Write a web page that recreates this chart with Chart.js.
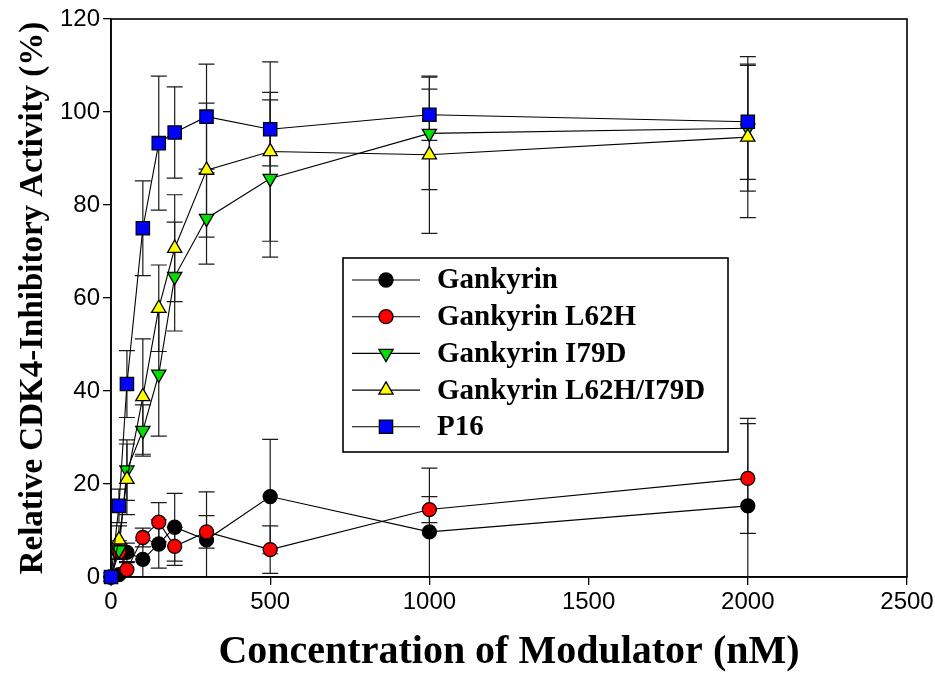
<!DOCTYPE html>
<html>
<head>
<meta charset="utf-8">
<script src="https://cdn.jsdelivr.net/npm/chart.js@4.4.0/dist/chart.umd.min.js"></script>
<style>
html,body{margin:0;padding:0;background:#fff;}
#wrap{width:935px;height:675px;position:relative;}
</style>
</head>
<body>
<div id="wrap"><canvas id="c" width="935" height="675"></canvas></div>
<script>
// ---- data ----
const concentrations = [0, 25, 50, 100, 150, 200, 300, 500, 1000, 2000];

const gankyrin      = [0, 0.5, 5.3, 3.8, 7.1, 10.7, 8.0, 17.3, 9.7, 15.3];
const gankyrinErr   = [0, 1.0, 2.0, 4.0, 5.2, 7.3, 10.3, 12.3, 13.7, 18.8];

const l62h          = [0, 5.4, 1.6, 8.5, 11.8, 6.6, 9.7, 5.9, 14.5, 21.2];
const l62hErr       = [0, 1.5, 1.5, 2.0, 4.2, 4.1, 3.5, 5.1, 2.8, 11.8];

const i79d          = [0, 5.8, 23.0, 31.5, 43.6, 64.6, 77.1, 85.7, 95.4, 96.5];
const i79dErr       = [0, 2.0, 6.5, 5.5, 13.3, 11.7, 9.8, 16.9, 12.1, 13.5];

const l62hI79d      = [0, 8.0, 21.0, 38.8, 57.8, 70.7, 87.5, 91.5, 90.8, 94.6];
const l62hI79dErr   = [0, 3.0, 7.6, 12.4, 9.3, 11.5, 14.4, 19.3, 16.9, 17.3];

const p16           = [0, 15.3, 41.5, 75.0, 93.3, 95.6, 99.0, 96.3, 99.4, 97.9];
const p16Err        = [0, 3.6, 7.2, 10.2, 14.4, 9.8, 11.3, 7.9, 5.5, 12.4];

const seriesNames = ['Gankyrin', 'Gankyrin L62H', 'Gankyrin I79D', 'Gankyrin L62H/I79D', 'P16'];
const xTickValues = [0, 500, 1000, 1500, 2000, 2500];
const yTickValues = [0, 20, 40, 60, 80, 100, 120];
const xTitle = 'Concentration of Modulator (nM)';
const yTitle = 'Relative CDK4-Inhibitory Activity (%)';

// ---- styles ----
const styles = [
  {color: '#000000', shape: 'circle',   radius: 7,   rot: 0},
  {color: '#ff0000', shape: 'circle',   radius: 7,   rot: 0},
  {color: '#00e000', shape: 'triangle', radius: 8.2, rot: 180},
  {color: '#ffff00', shape: 'triangle', radius: 8.2, rot: 0},
  {color: '#0000ff', shape: 'rect',     radius: 9.4, rot: 0}
];
const values = [gankyrin, l62h, i79d, l62hI79d, p16];
const errors = [gankyrinErr, l62hErr, i79dErr, l62hI79dErr, p16Err];

const datasets = values.map((vals, k) => ({
  label: seriesNames[k],
  data: concentrations.map((c, i) => ({x: c, y: vals[i]})),
  errors: errors[k],
  borderColor: '#000',
  borderWidth: 1.1,
  backgroundColor: styles[k].color,
  pointBackgroundColor: styles[k].color,
  pointBorderColor: '#000',
  pointBorderWidth: 1.3,
  pointStyle: styles[k].shape,
  pointRadius: styles[k].radius,
  pointRotation: styles[k].rot,
  pointHoverRadius: styles[k].radius,
  tension: 0,
  fill: false,
  clip: false,
  order: values.length - k
}));

const tickFont = {family: "'Liberation Sans', Arial, sans-serif", size: 24};

const errorBarPlugin = {
  id: 'errorBars',
  beforeDatasetsDraw(chart) {
    const {ctx, chartArea, scales: {x, y}} = chart;
    ctx.save();
    ctx.beginPath();
    ctx.rect(chartArea.left - 20, chartArea.top - 20, chartArea.right - chartArea.left + 40, chartArea.bottom - chartArea.top + 20);
    ctx.clip();
    ctx.strokeStyle = '#1a1a1a';
    ctx.lineWidth = 1.2;
    chart.data.datasets.forEach(ds => {
      ds.data.forEach((p, i) => {
        const e = ds.errors[i];
        if (!e) return;
        const px = x.getPixelForValue(p.x);
        const yt = y.getPixelForValue(p.y + e);
        const yb = y.getPixelForValue(p.y - e);
        ctx.beginPath();
        ctx.moveTo(px, yt); ctx.lineTo(px, Math.min(yb, chartArea.bottom));
        ctx.moveTo(px - 8, yt); ctx.lineTo(px + 8, yt);
        if (p.y - e >= 0) { ctx.moveTo(px - 8, yb); ctx.lineTo(px + 8, yb); }
        ctx.stroke();
      });
    });
    ctx.restore();
  }
};

const framePlugin = {
  id: 'frame',
  beforeDatasetsDraw(chart) {
    const {ctx, chartArea: a} = chart;
    ctx.save();
    ctx.strokeStyle = '#000';
    ctx.lineWidth = 1.6;
    ctx.strokeRect(a.left, a.top, a.right - a.left, a.bottom - a.top);
    ctx.restore();
  }
};

function marker(ctx, st, x, y) {
  ctx.save();
  ctx.fillStyle = st.color;
  ctx.strokeStyle = '#000';
  ctx.lineWidth = 1.3;
  if (Chart.helpers && Chart.helpers.drawPoint) {
    Chart.helpers.drawPoint(ctx, {pointStyle: st.shape, radius: st.radius, rotation: st.rot, borderWidth: 1.3}, x, y);
    ctx.restore();
    return;
  }
  ctx.beginPath();
  if (st.shape === 'circle') ctx.arc(x, y, st.radius, 0, Math.PI * 2);
  else if (st.shape === 'rect') { const s = st.radius * Math.SQRT1_2; ctx.rect(x - s, y - s, 2 * s, 2 * s); }
  else {
    let rad = st.rot * Math.PI / 180;
    for (let j = 0; j < 3; j++) {
      const px = x + Math.sin(rad) * st.radius, py = y - Math.cos(rad) * st.radius;
      if (j === 0) ctx.moveTo(px, py); else ctx.lineTo(px, py);
      rad += 2 * Math.PI / 3;
    }
    ctx.closePath();
  }
  ctx.fill(); ctx.stroke();
  ctx.restore();
}

const legendPlugin = {
  id: 'boxLegend',
  afterDatasetsDraw(chart, args, opts) {
    const {ctx} = chart;
    ctx.save();
    ctx.fillStyle = '#fff';
    ctx.fillRect(opts.left, opts.top, opts.width, opts.height);
    ctx.strokeStyle = '#000';
    ctx.lineWidth = 1.6;
    ctx.strokeRect(opts.left, opts.top, opts.width, opts.height);
    chart.data.datasets.forEach((ds, k) => {
      const cy = opts.firstY + k * opts.rowGap;
      ctx.strokeStyle = '#000';
      ctx.lineWidth = 1.1;
      ctx.beginPath();
      ctx.moveTo(opts.left + 9, cy); ctx.lineTo(opts.left + 77, cy);
      ctx.stroke();
      marker(ctx, styles[k], opts.left + 43, cy);
      ctx.fillStyle = '#000';
      ctx.font = "bold 29px 'Liberation Serif', 'Times New Roman', serif";
      ctx.textBaseline = 'middle';
      ctx.textAlign = 'left';
      ctx.fillText(ds.label, opts.left + 94, cy + 1);
    });
    ctx.restore();
  }
};

new Chart(document.getElementById('c'), {
  type: 'line',
  data: {datasets},
  plugins: [errorBarPlugin, framePlugin, legendPlugin],
  options: {
    responsive: false,
    animation: false,
    devicePixelRatio: 1,
    layout: {padding: {top: 19, right: 28, left: 0, bottom: 0}},
    plugins: {
      legend: {display: false},
      tooltip: {enabled: false},
      boxLegend: {left: 343, top: 258, width: 385, height: 194, firstY: 280, rowGap: 36.7}
    },
    scales: {
      x: {
        type: 'linear',
        min: 0, max: 2500,
        afterBuildTicks: s => { s.ticks = xTickValues.map(v => ({value: v})); },
        afterFit: s => { s.height = 98; s.paddingLeft = 0; s.paddingRight = 0; },
        ticks: {color: '#000', font: tickFont, padding: 3, maxRotation: 0, autoSkip: false, callback: v => String(v)},
        grid: {drawOnChartArea: false, drawTicks: true, tickLength: 8, color: '#000', lineWidth: 1.3},
        border: {display: true, color: '#000', width: 1.6},
        title: {display: true, text: xTitle, color: '#000',
          font: {family: "'Liberation Serif', 'Times New Roman', serif", weight: 'bold', size: 40, lineHeight: 1},
          padding: {top: 0, bottom: 2}}
      },
      y: {
        type: 'linear',
        min: 0, max: 120,
        afterBuildTicks: s => { s.ticks = yTickValues.map(v => ({value: v})); },
        afterFit: s => { s.width = 111; },
        ticks: {color: '#000', font: tickFont, padding: 3, autoSkip: false, callback: v => String(v)},
        grid: {drawOnChartArea: false, drawTicks: true, tickLength: 8, color: '#000', lineWidth: 1.3},
        border: {display: true, color: '#000', width: 1.6},
        title: {display: true, text: yTitle, color: '#000',
          font: {family: "'Liberation Serif', 'Times New Roman', serif", weight: 'bold', size: 33, lineHeight: 1},
          padding: {top: 17, bottom: 0}}
      }
    }
  }
});
</script>
</body>
</html>
